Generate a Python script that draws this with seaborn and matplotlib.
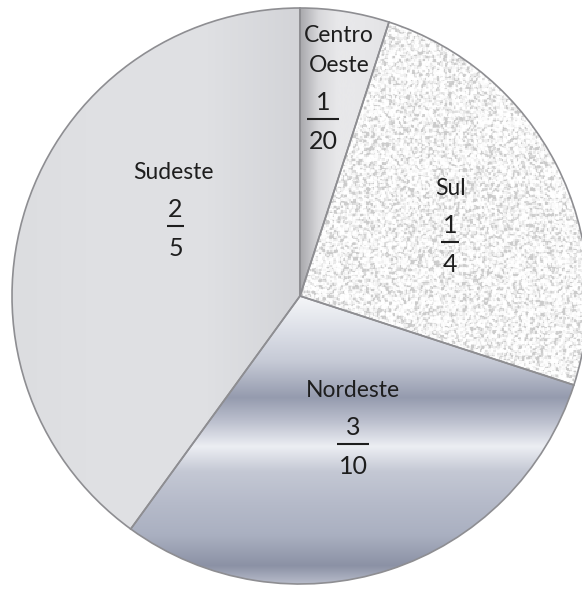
import numpy as np
import matplotlib.pyplot as plt
import seaborn as sns
from matplotlib.colors import LinearSegmentedColormap, to_rgb

# dados: participação de cada região (fração)
regioes = ["Centro\nOeste", "Sul", "Nordeste", "Sudeste"]
numeradores = [1, 1, 3, 2]
denominadores = [20, 4, 10, 5]
fracoes = [n / d for n, d in zip(numeradores, denominadores)]

# posição do traço da fração (raio relativo, ângulo em graus)
rotulo_r = [0.620, 0.554, 0.546, 0.496]
rotulo_ang = [82.6, 19.8, -70.3, 150.6]
nome_dx = [16, 0, 0, -2]  # deslocamento horizontal do nome (px)

sns.set_style("white")
plt.rcParams['font.family'] = ['Lato', 'DejaVu Sans']

fig = plt.figure(figsize=(5.82, 5.91), dpi=100)
ax = fig.add_axes([0, 0, 1, 1])

R, cx, cy = 288, 300, 296

cores = ['#e2e2e5', '#f2f2f2', '#b4b9c9', '#dfe0e3']
wedges, _ = ax.pie(fracoes, startangle=90, counterclock=False, colors=cores,
                   wedgeprops=dict(edgecolor='none', linewidth=0))

grad_x = np.linspace(0, 1, 256)[None, :]

# Centro Oeste: sombra estreita junto à borda esquerda
cmap_co = LinearSegmentedColormap.from_list('co', ['#a8a8ac', '#d8d8db', '#e8e8ea', '#e8e8ea',
                                                  '#e6e6e8', '#e2e2e4'])
img = ax.imshow(grad_x, cmap=cmap_co, extent=[0, 0.32, -1, 1], aspect='auto', zorder=2)
img.set_clip_path(wedges[0])

# Sul: textura granulada clara
rng = np.random.default_rng(7)
ruido = rng.random((420, 420))
ruido = (ruido + np.roll(ruido, 1, 0) + np.roll(ruido, 1, 1) + np.roll(ruido, (1, 1), (0, 1))) / 4
cmap_sul = LinearSegmentedColormap.from_list('sul', ['#cbcbcb', '#e9e9e9', '#fafafa', '#ffffff'])
img = ax.imshow(ruido, cmap=cmap_sul, vmin=0.27, vmax=0.68, extent=[-1, 1, -1, 1], aspect='auto',
                interpolation='nearest', zorder=2)
img.set_clip_path(wedges[1])

# Nordeste: faixas metálicas
py = [296, 330, 362, 398, 422, 447, 472, 505, 535, 566, 590]
cores_nd = ['#f6f7f9', '#dde0e8', '#c6cad6', '#959bae', '#bcc0ce', '#eceef3',
            '#c4c8d4', '#b5bac9', '#aab0c1', '#8b91a5', '#c6cad6']
ys = [(cy - p) / R for p in py][::-1]
rgb = np.array([to_rgb(c) for c in cores_nd[::-1]])
yy = np.linspace(-1.05, 0, 400)
col = np.stack([np.interp(yy, ys, rgb[:, k]) for k in range(3)], axis=-1)
img = ax.imshow(col[:, None, :], extent=[-1, 1, -1.05, 0], origin='lower', aspect='auto', zorder=2)
img.set_clip_path(wedges[2])

# Sudeste: cinza claro quase uniforme
cmap_se = LinearSegmentedColormap.from_list('se', ['#dcdde0', '#e0e1e4', '#dfe0e3', '#d2d3d7'])
img = ax.imshow(grad_x, cmap=cmap_se, extent=[-1, 0.02, -1, 1], aspect='auto', zorder=2)
img.set_clip_path(wedges[3])

# contornos
ax.pie(fracoes, startangle=90, counterclock=False,
       wedgeprops=dict(fill=False, edgecolor='#8e8e92', linewidth=1.2, zorder=3))

ax.set_xlim(-cx / R, (582 - cx) / R)
ax.set_ylim(-(591 - cy) / R, cy / R)
ax.set_aspect('auto')
ax.axis('off')

px = 1.0 / R  # um pixel em unidades de dados
cor_txt = '#1e1e1e'
fig.canvas.draw()
rend = fig.canvas.get_renderer()
for i, w in enumerate(wedges):
    a = np.deg2rad(rotulo_ang[i])
    x, y = rotulo_r[i] * np.cos(a), rotulo_r[i] * np.sin(a)
    tn = ax.text(x, y + 9 * px, str(numeradores[i]), ha='center', va='baseline',
                 fontsize=18, color=cor_txt, zorder=5)
    td = ax.text(x, y - 30 * px, str(denominadores[i]), ha='center', va='baseline',
                 fontsize=18, color=cor_txt, zorder=5)
    larg = max(tn.get_window_extent(rend).width, td.get_window_extent(rend).width) + 3
    ax.plot([x - larg / 2 * px, x + larg / 2 * px], [y, y], color=cor_txt,
            lw=1.5, solid_capstyle='butt', zorder=5)
    ax.text(x + nome_dx[i] * px, y + 47 * px, regioes[i], ha='center', va='baseline',
            fontsize=16.5, color=cor_txt, linespacing=1.55, zorder=5)

fig.savefig('out.png', dpi=100)
